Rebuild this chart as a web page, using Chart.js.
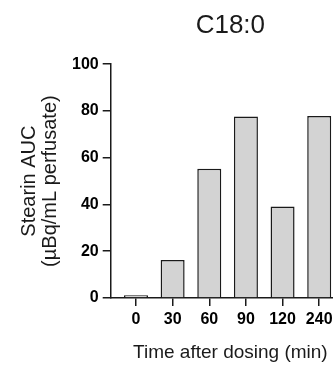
<!DOCTYPE html>
<html>
<head>
<meta charset="utf-8">
<script src="https://cdn.jsdelivr.net/npm/chart.js@4"></script>
<style>
  html, body { margin: 0; padding: 0; background: #fff; overflow: hidden; }
  #wrap { width: 333px; height: 366px; overflow: hidden; }
</style>
</head>
<body>
<div id="wrap">
  <canvas id="stearinChart" width="350" height="366"></canvas>
</div>
<script>
// Values
var timeLabels = ['0', '30', '60', '90', '120', '240'];
var stearinAUC = [1.2, 16.2, 55.3, 77.6, 39.1, 77.8];
var yTickValues = [0, 20, 40, 60, 80, 100];

var axisColor = '#1a1a1a';
var fontFamily = '"Liberation Sans", Arial, sans-serif';

// bars sit on a linear x scale so the first bar can float off the y axis
var barPoints = timeLabels.map(function(t, i) {
    return { x: i, y: stearinAUC[i] };
});

var ctx = document.getElementById('stearinChart').getContext('2d');
var stearinChart = new Chart(ctx, {
    type: 'bar',
    data: {
        datasets: [{
            label: 'Stearin AUC',
            data: barPoints,
            backgroundColor: '#d3d3d3',
            borderColor: axisColor,
            borderWidth: 1.5,
            categoryPercentage: 1,
            barPercentage: 0.655
        }]
    },
    options: {
        responsive: false,
        animation: false,
        devicePixelRatio: 1,
        layout: {
            padding: { left: 0, right: 0, top: 0, bottom: 0 }
        },
        plugins: {
            legend: { display: false },
            tooltip: { enabled: false },
            title: {
                display: true,
                text: 'C18:0',
                fullSize: false,
                color: axisColor,
                font: { family: fontFamily, size: 26, weight: 'normal' },
                padding: { top: 10, bottom: 23 }
            }
        },
        scales: {
            x: {
                type: 'linear',
                offset: false,
                min: -0.69,
                max: 5.84,
                afterBuildTicks: function(scale) {
                    scale.ticks = timeLabels.map(function(t, i) { return { value: i }; });
                },
                ticks: {
                    autoSkip: false,
                    maxRotation: 0,
                    padding: 4,
                    color: '#000',
                    font: { family: fontFamily, size: 16, weight: 'bold' },
                    callback: function(value) { return timeLabels[value]; }
                },
                grid: {
                    offset: false,
                    drawOnChartArea: false,
                    drawTicks: true,
                    tickLength: 8,
                    color: axisColor,
                    lineWidth: 1.5
                },
                border: { display: true, color: axisColor, width: 1.5 },
                title: {
                    display: true,
                    text: 'Time after dosing (min)',
                    color: axisColor,
                    font: { family: fontFamily, size: 19, weight: 'normal' },
                    padding: { top: 8, bottom: 2 }
                }
            },
            y: {
                min: 0,
                max: 100,
                afterBuildTicks: function(scale) {
                    scale.ticks = yTickValues.map(function(v) { return { value: v }; });
                },
                ticks: {
                    padding: 4,
                    color: '#000',
                    font: { family: fontFamily, size: 16, weight: 'bold' }
                },
                grid: {
                    drawOnChartArea: false,
                    drawTicks: true,
                    tickLength: 8,
                    color: axisColor,
                    lineWidth: 1.5
                },
                border: { display: true, color: axisColor, width: 1.5 },
                title: {
                    display: true,
                    text: ['Stearin AUC', '(\u00b5Bq/mL perfusate)'],
                    color: axisColor,
                    font: { family: fontFamily, size: 20, weight: 'normal', lineHeight: 1.05 },
                    padding: { top: 19, bottom: 7 }
                }
            }
        }
    }
});
</script>
</body>
</html>
